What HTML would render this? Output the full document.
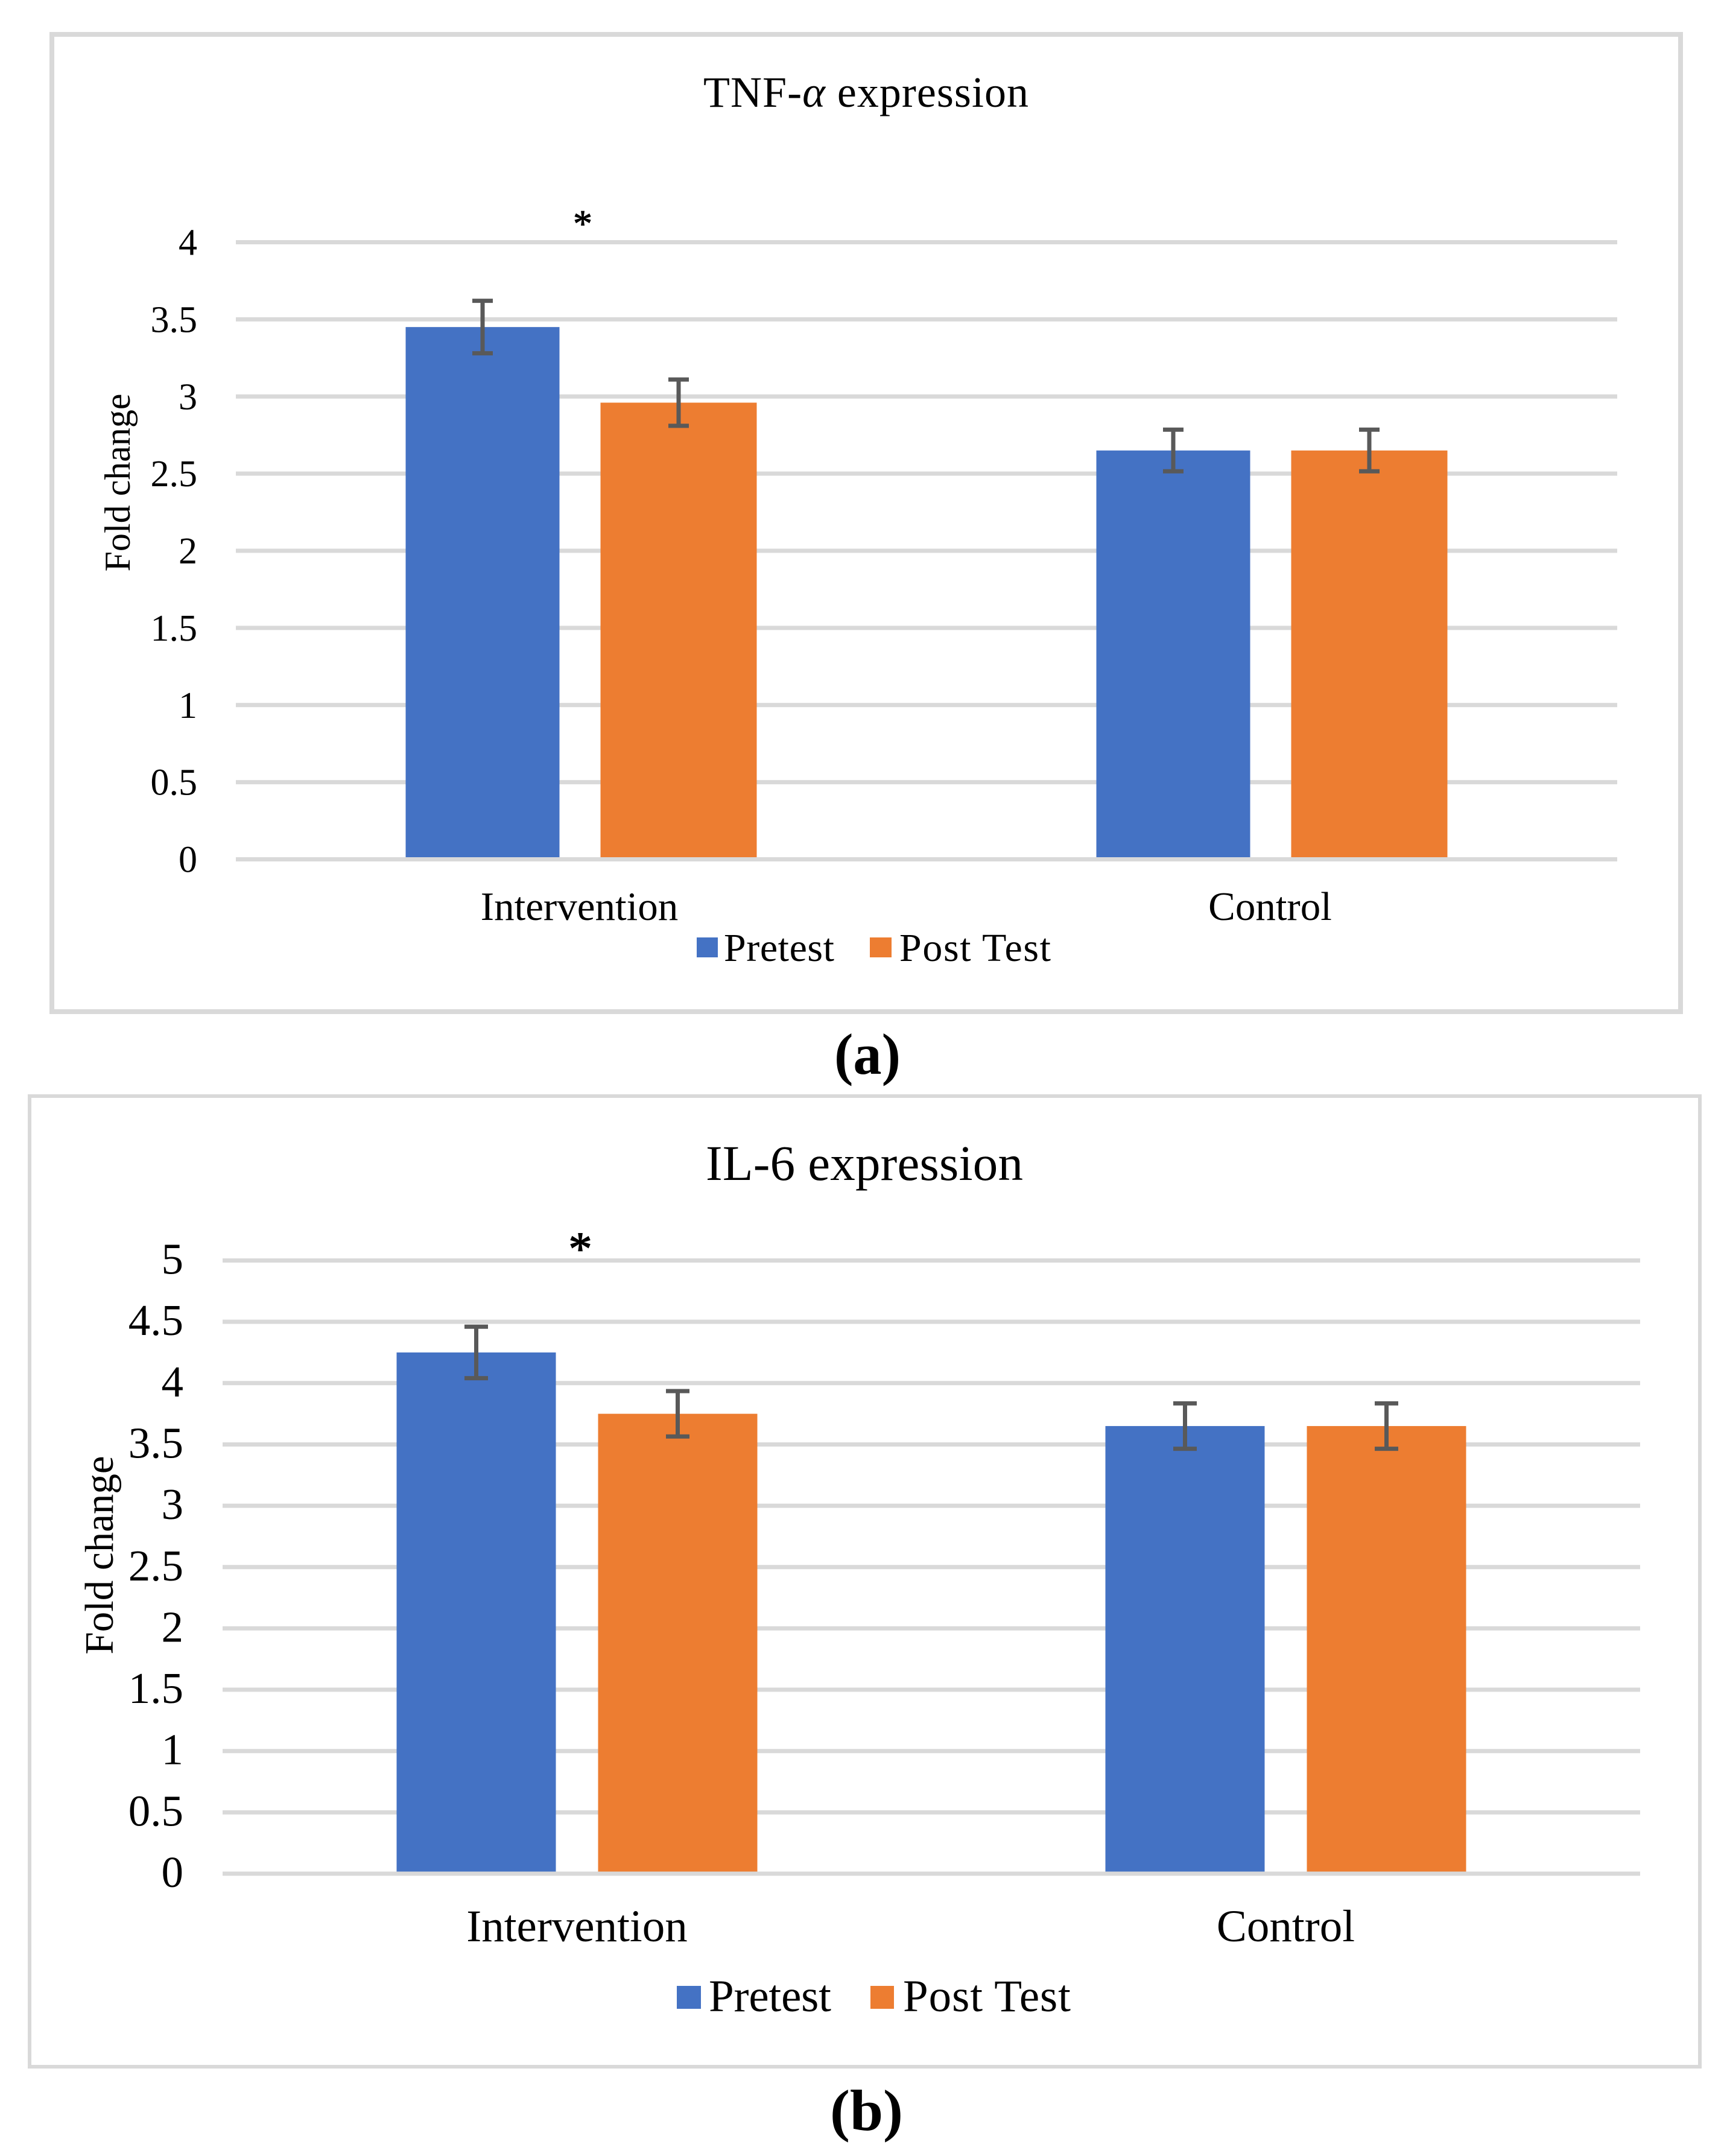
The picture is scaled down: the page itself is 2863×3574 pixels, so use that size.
<!DOCTYPE html>
<html lang="en">
<head>
<meta charset="utf-8">
<title>TNF-α and IL-6 expression</title>
<style>
html,body{margin:0;padding:0;background:#fff;}
svg{display:block;}
text{font-family:"Liberation Serif","Times New Roman",serif;fill:#000;}
</style>
</head>
<body>
<svg id="figure" xmlns="http://www.w3.org/2000/svg" width="2863" height="3574" viewBox="0 0 2863 3574">
  <rect x="0" y="0" width="2863" height="3574" fill="#ffffff"/>

  <g id="chart-a">
    <rect x="86" y="57" width="2700" height="1620" fill="#ffffff" stroke="#d9d9d9" stroke-width="8"/>
    <text x="1166" y="177" font-size="72" textLength="539" lengthAdjust="spacing">TNF-<tspan font-style="italic">α</tspan> expression</text>
    <text transform="translate(215 800) rotate(-90)" text-anchor="middle" font-size="60">Fold change</text>
    <text x="966" y="392" text-anchor="middle" font-size="64" stroke="#000" stroke-width="1">*</text>
    <rect x="1155" y="1554" width="35" height="33" fill="#4472c4"/>
    <text x="1200" y="1593" font-size="66" textLength="183" lengthAdjust="spacing">Pretest</text>
    <rect x="1442" y="1554" width="36" height="33" fill="#ed7d31"/>
    <text x="1491" y="1593" font-size="66" textLength="251" lengthAdjust="spacing">Post Test</text>
  </g>
  <text x="1383" y="1780" font-size="96" font-weight="bold" textLength="110" lengthAdjust="spacingAndGlyphs">(a)</text>

  <g id="chart-b">
    <rect x="49" y="1817" width="2769" height="1609" fill="#ffffff" stroke="#d9d9d9" stroke-width="6"/>
    <text x="1170" y="1956" font-size="83" textLength="526" lengthAdjust="spacing">IL-6 expression</text>
    <text transform="translate(187 2578) rotate(-90)" text-anchor="middle" font-size="67">Fold change</text>
    <text x="962" y="2096" text-anchor="middle" font-size="78" stroke="#000" stroke-width="1.5">*</text>
    <rect x="1122" y="3292" width="40" height="38" fill="#4472c4"/>
    <text x="1175" y="3334" font-size="75" textLength="203" lengthAdjust="spacing">Pretest</text>
    <rect x="1443" y="3292" width="39" height="38" fill="#ed7d31"/>
    <text x="1497" y="3334" font-size="75" textLength="278" lengthAdjust="spacing">Post Test</text>
  </g>
  <text x="1376" y="3531" font-size="96" font-weight="bold" textLength="121" lengthAdjust="spacingAndGlyphs">(b)</text>
</svg>

<script>
var categories = ['Intervention', 'Control'];
var seriesNames = ['Pretest', 'Post Test'];

var tnfTicks = ['0', '0.5', '1', '1.5', '2', '2.5', '3', '3.5', '4'];
var tnfPretest = [3.45, 2.65];
var tnfPostTest = [2.96, 2.65];
var tnfPretestError = [0.17, 0.135];
var tnfPostTestError = [0.15, 0.135];

var il6Ticks = ['0', '0.5', '1', '1.5', '2', '2.5', '3', '3.5', '4', '4.5', '5'];
var il6Pretest = [4.25, 3.65];
var il6PostTest = [3.75, 3.65];
var il6PretestError = [0.21, 0.185];
var il6PostTestError = [0.185, 0.185];

var SVG_NS = 'http://www.w3.org/2000/svg';
var seriesColors = ['#4472c4', '#ed7d31'];

function mk(tag, attrs, parent) {
  var el = document.createElementNS(SVG_NS, tag);
  for (var k in attrs) { el.setAttribute(k, attrs[k]); }
  parent.appendChild(el);
  return el;
}

function drawChart(root, prefix, ticks, values, errors, g) {
  var maxTick = parseFloat(ticks[ticks.length - 1]);
  function yScale(v) { return g.y0 - (g.y0 - g.yTop) * v / maxTick; }
  function bandCenter(i) {
    var band = (g.right - g.left) / categories.length;
    return g.left + band * (i + 0.5);
  }
  function barX(i, s) {
    var c = bandCenter(i) + g.shift;
    return s === 0 ? c - g.gap / 2 - g.barW[0] : c + g.gap / 2;
  }

  ticks.forEach(function (t) {
    var v = parseFloat(t);
    if (v === 0) { return; }
    var line = mk('line', {x1: g.left, x2: g.right, y1: yScale(v), y2: yScale(v), stroke: '#d9d9d9', 'stroke-width': g.gridW}, root);
    
    
  });

  ticks.forEach(function (t) {
    var v = parseFloat(t);
    var label = mk('text', {x: g.tickRight, y: yScale(v) + g.tickDy, 'text-anchor': 'end', 'font-size': g.tickSize}, root);
    label.textContent = t;
    
    
  });

  values.forEach(function (series, s) {
    series.forEach(function (v, i) {
      var x = barX(i, s);
      var bar = mk('rect', {x: x, y: yScale(v), width: g.barW[s], height: yScale(0) - yScale(v), fill: seriesColors[s]}, root);
      
      
    });
  });

  var axis = mk('line', {x1: g.left, x2: g.right, y1: yScale(0), y2: yScale(0), stroke: '#d9d9d9', 'stroke-width': g.gridW}, root);
  
  

  values.forEach(function (series, s) {
    series.forEach(function (v, i) {
      var cx = barX(i, s) + g.barW[s] / 2;
      var hi = yScale(v + errors[s][i]);
      var lo = yScale(v - errors[s][i]);
      var err = mk('path', {
        d: 'M' + cx + ' ' + hi + 'V' + lo + 'M' + (cx - g.capW / 2) + ' ' + hi + 'H' + (cx + g.capW / 2) + 'M' + (cx - g.capW / 2) + ' ' + lo + 'H' + (cx + g.capW / 2),
        fill: 'none', stroke: '#595959', 'stroke-width': g.errW
      }, root);
      
      
    });
  });

  categories.forEach(function (c, i) {
    var label = mk('text', {x: bandCenter(i) + g.catShift, y: g.catY, 'text-anchor': 'middle', 'font-size': g.catSize}, root);
    label.textContent = c;
    
    
  });
}

drawChart(document.getElementById('chart-a'), 'chart-a', tnfTicks,
  [tnfPretest, tnfPostTest], [tnfPretestError, tnfPostTestError],
  {left: 391, right: 2681, y0: 1424.5, yTop: 401.5, gridW: 7, barW: [255, 259], gap: 68, shift: -2, capW: 34, errW: 7,
   tickRight: 327, tickDy: 21, tickSize: 62, catY: 1525, catSize: 67, catShift: -3});

drawChart(document.getElementById('chart-b'), 'chart-b', il6Ticks,
  [il6Pretest, il6PostTest], [il6PretestError, il6PostTestError],
  {left: 369, right: 2719, y0: 3106, yTop: 2089.5, gridW: 7, barW: [264, 264], gap: 70, shift: 0, capW: 39, errW: 7,
   tickRight: 304, tickDy: 22, tickSize: 73, catY: 3218, catSize: 75, catShift: 0});
</script>
</body>
</html>
